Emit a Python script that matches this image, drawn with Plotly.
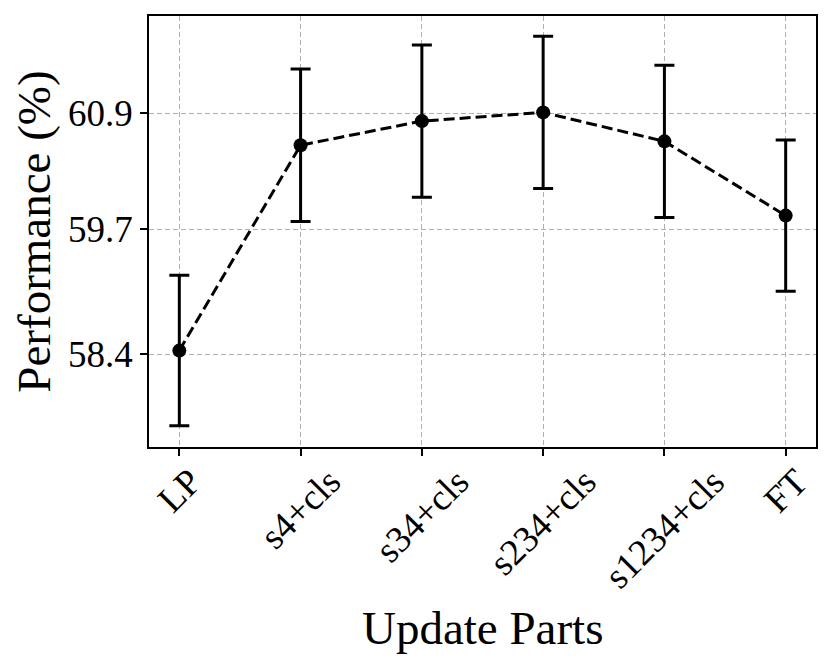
import plotly.graph_objects as go

categories = ["LP", "s4+cls", "s34+cls", "s234+cls", "s1234+cls", "FT"]
performance = [58.44, 60.57, 60.82, 60.91, 60.61, 59.84]
errors = [0.78, 0.79, 0.79, 0.79, 0.79, 0.785]
y_ticks = [58.4, 59.7, 60.9]

font_family = "Liberation Serif, Times New Roman, serif"
xpos = list(range(len(categories)))

fig = go.Figure()
fig.add_trace(go.Scatter(
    x=xpos,
    y=performance,
    mode="lines+markers",
    line=dict(color="black", width=3, dash="11px,5px"),
    marker=dict(color="black", size=14),
    error_y=dict(type="data", array=errors, visible=True, color="black", thickness=3, width=10),
    showlegend=False,
))

# rotated category labels, centred under each tick (matplotlib ha='center' style)
for xi, lab in zip(xpos, categories):
    fig.add_annotation(
        x=xi, xref="x", y=0, yref="paper",
        text=lab, showarrow=False, textangle=-45,
        xanchor="center", yanchor="top", yshift=-11,
        font=dict(size=37, family=font_family, color="black"),
    )

fig.add_annotation(
    x=0.5, xref="paper", y=0, yref="paper",
    text="Update Parts", showarrow=False,
    xanchor="center", yanchor="top", yshift=-153,
    font=dict(size=47, family=font_family, color="black"),
)

fig.update_layout(
    width=822, height=659,
    margin=dict(l=141, r=14, t=6, b=220),
    plot_bgcolor="white", paper_bgcolor="white",
    font=dict(family=font_family, color="black"),
)
fig.update_xaxes(
    range=[-0.25, 5.25],
    tickmode="array", tickvals=xpos, showticklabels=False,
    ticks="outside", ticklen=7, tickwidth=1.5, tickcolor="black",
    showline=True, linecolor="black", linewidth=1.5, mirror=True,
    showgrid=True, gridcolor="#b0b0b0", griddash="5px,3px", gridwidth=1,
    zeroline=False,
)
fig.update_yaxes(
    range=[57.44, 61.91],
    tickmode="array", tickvals=y_ticks, ticktext=[f"{v:.1f}" for v in y_ticks],
    tickfont=dict(size=37, family=font_family),
    ticks="outside", ticklen=7, tickwidth=1.5, tickcolor="black",
    showline=True, linecolor="black", linewidth=1.5, mirror=True,
    showgrid=True, gridcolor="#b0b0b0", griddash="5px,3px", gridwidth=1,
    zeroline=False,
    title=dict(text="Performance (%)", font=dict(size=47, family=font_family), standoff=10),
)
fig.write_html("out.html")
